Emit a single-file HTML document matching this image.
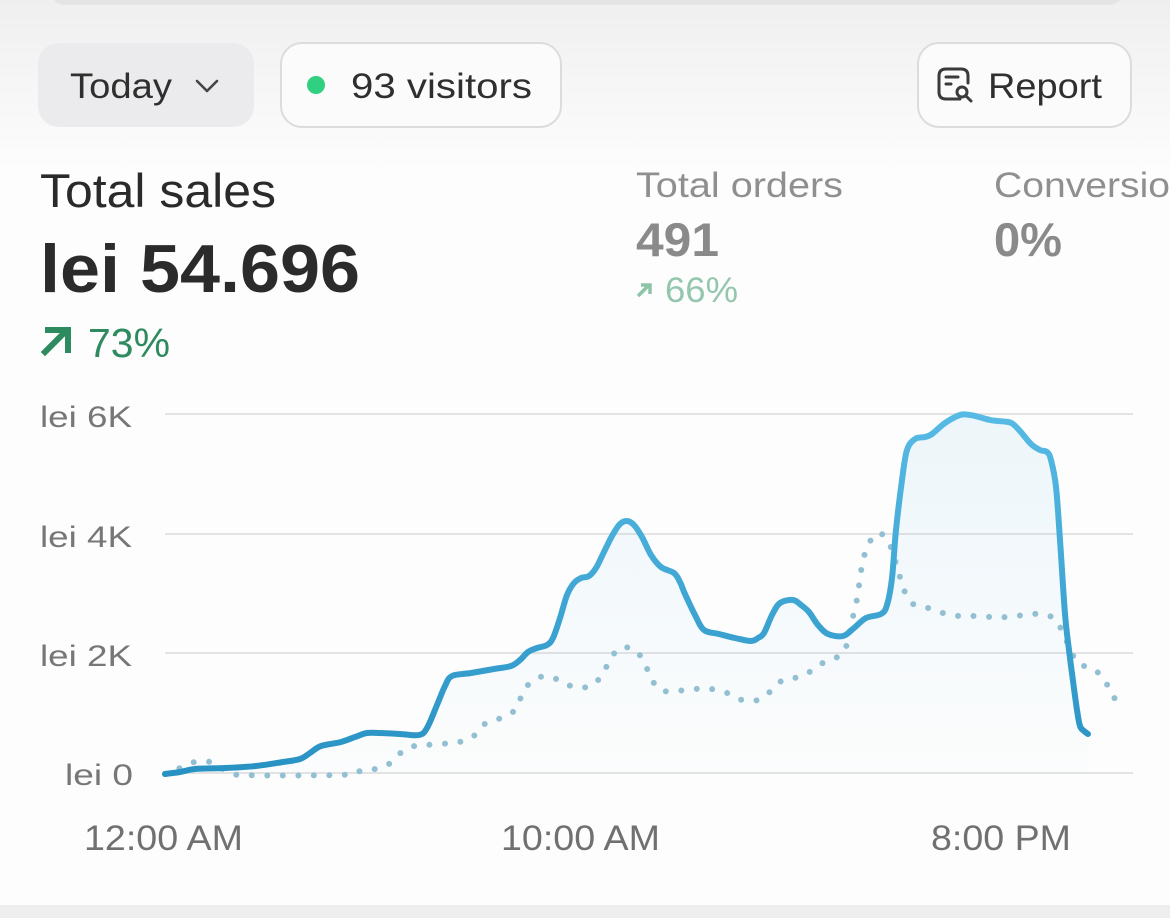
<!DOCTYPE html>
<html><head><meta charset="utf-8"><style>
html,body{margin:0;padding:0;width:1170px;height:918px;overflow:hidden;background:#fdfdfd;}
svg{display:block;}
text{font-family:"Liberation Sans",sans-serif;}
</style></head><body>
<svg id="s" width="1170" height="918" viewBox="0 0 1170 918" xmlns="http://www.w3.org/2000/svg">
<defs>
<linearGradient id="bg" x1="0" y1="0" x2="0" y2="1">
<stop offset="0" stop-color="#efefef"/><stop offset="1" stop-color="#fdfdfd"/>
</linearGradient>
<linearGradient id="ln" x1="0" y1="410" x2="0" y2="775" gradientUnits="userSpaceOnUse">
<stop offset="0" stop-color="#58bbe5"/><stop offset="1" stop-color="#2892c3"/>
</linearGradient>
<linearGradient id="fa" x1="0" y1="410" x2="0" y2="775" gradientUnits="userSpaceOnUse">
<stop offset="0" stop-color="#5ab4e2" stop-opacity="0.10"/><stop offset="1" stop-color="#5ab4e2" stop-opacity="0.01"/>
</linearGradient>
</defs>
<rect x="0" y="0" width="1170" height="918" fill="#fdfdfd"/>
<rect x="0" y="0" width="1170" height="170" fill="url(#bg)"/>
<rect x="48" y="-40" width="1078" height="45" rx="18" fill="#e4e4e4"/>
<rect x="0" y="905" width="1170" height="13" fill="#eeeeee"/>

<!-- buttons -->
<rect x="38" y="43" width="216" height="84" rx="21" fill="#ebebed"/>
<text x="70" y="98" font-size="35" fill="#2f2f2f" textLength="102" lengthAdjust="spacingAndGlyphs">Today</text>
<polyline points="197,81 207,91 217,81" fill="none" stroke="#444" stroke-width="2.6" stroke-linecap="round" stroke-linejoin="round"/>

<rect x="281" y="43" width="280" height="84" rx="21" fill="#fbfbfb" stroke="#dcdcdc" stroke-width="2"/>
<circle cx="316" cy="85" r="9" fill="#2fd07f"/>
<text x="351" y="98" font-size="35" fill="#2f2f2f" textLength="181" lengthAdjust="spacingAndGlyphs">93 visitors</text>

<rect x="918" y="43" width="213" height="84" rx="21" fill="#fbfbfb" stroke="#dcdcdc" stroke-width="2"/>
<path d="M960,99 H946 Q939,99 939,92 V76 Q939,69 946,69 H961 Q968,69 968,76 V83" fill="none" stroke="#3a3a3a" stroke-width="3" stroke-linecap="round"/>
<line x1="946" y1="77" x2="958" y2="77" stroke="#3a3a3a" stroke-width="3" stroke-linecap="round"/>
<line x1="946" y1="84" x2="951" y2="84" stroke="#3a3a3a" stroke-width="3" stroke-linecap="round"/>
<circle cx="962" cy="92" r="5" fill="none" stroke="#3a3a3a" stroke-width="3"/>
<line x1="966" y1="96" x2="971" y2="101" stroke="#3a3a3a" stroke-width="3" stroke-linecap="round"/>
<text x="988" y="98" font-size="35" fill="#2f2f2f" textLength="114" lengthAdjust="spacingAndGlyphs">Report</text>

<!-- metrics -->
<text x="40" y="207" font-size="47" fill="#2a2a2a" textLength="236" lengthAdjust="spacingAndGlyphs">Total sales</text>
<text x="40" y="292" font-size="68" font-weight="bold" fill="#2b2b2b" textLength="320" lengthAdjust="spacingAndGlyphs">lei 54.696</text>
<line x1="45" y1="352" x2="66" y2="331" stroke="#2e8a5f" stroke-width="6" stroke-linecap="square"/>
<polyline points="48,330 68,330 68,350" fill="none" stroke="#2e8a5f" stroke-width="6" stroke-linecap="square"/>
<text x="88" y="357" font-size="41" fill="#2e8a5f" textLength="82" lengthAdjust="spacingAndGlyphs">73%</text>

<text x="636" y="197" font-size="35" fill="#8f8f8f" textLength="207" lengthAdjust="spacingAndGlyphs">Total orders</text>
<text x="636" y="256" font-size="47" font-weight="bold" fill="#8a8a8a" textLength="83" lengthAdjust="spacingAndGlyphs">491</text>
<line x1="638" y1="296" x2="649" y2="285" stroke="#8dc4a8" stroke-width="3.5"/>
<polyline points="641,285 650,285 650,294" fill="none" stroke="#8dc4a8" stroke-width="3.5"/>
<text x="665" y="302" font-size="35" fill="#93c6ad" textLength="73" lengthAdjust="spacingAndGlyphs">66%</text>

<text x="994" y="197" font-size="35" fill="#8f8f8f" textLength="176" lengthAdjust="spacingAndGlyphs">Conversio</text>
<text x="994" y="256" font-size="47" font-weight="bold" fill="#8a8a8a" textLength="68" lengthAdjust="spacingAndGlyphs">0%</text>

<!-- grid -->
<g stroke="#e3e3e3" stroke-width="2">
<line x1="165" y1="414" x2="1133" y2="414"/>
<line x1="165" y1="534" x2="1133" y2="534"/>
<line x1="165" y1="653" x2="1133" y2="653"/>
<line x1="165" y1="773" x2="1133" y2="773"/>
</g>
<g font-size="30" fill="#777777">
<text x="40" y="427" textLength="92" lengthAdjust="spacingAndGlyphs">lei 6K</text>
<text x="40" y="547" textLength="92" lengthAdjust="spacingAndGlyphs">lei 4K</text>
<text x="40" y="666" textLength="92" lengthAdjust="spacingAndGlyphs">lei 2K</text>
<text x="65" y="785" textLength="68" lengthAdjust="spacingAndGlyphs">lei 0</text>
</g>
<g font-size="35" fill="#707070">
<text x="84" y="850" textLength="159" lengthAdjust="spacingAndGlyphs">12:00 AM</text>
<text x="501" y="850" textLength="159" lengthAdjust="spacingAndGlyphs">10:00 AM</text>
<text x="931" y="850" textLength="140" lengthAdjust="spacingAndGlyphs">8:00 PM</text>
</g>

<!-- area fill -->
<polygon id="area" fill="url(#fa)" points="165,774 180,772 195,769 225,768 256,766 283,762 300,759 310,753 321,746 341,742 355,737 367,733 380,733 400,734 419,735 427,728 437,705 445,686 452,676 471,673 494,669 511,666 520,660 528,652 537,648 547,645 553,638 560,618 567,595 574,583 581,578 589,576 596,568 603,554 612,536 620,524 627,521 634,525 642,537 651,555 661,567 674,573 680,582 685,594 695,615 704,630 719,634 735,638 751,641 758,638 764,633 772,615 780,603 793,600 801,605 809,612 818,625 828,634 843,636 854,628 866,618 881,614 887,605 892,578 896,530 902,480 907,450 915,439 925,437 932,434 945,423 960,415 970,415 979,417 990,420 998,421 1008,422 1013,424 1020,431 1031,444 1040,450 1047,452 1051,460 1056,487 1060,540 1065,614 1069,650 1073,681 1077,710 1080,726 1084,731 1088,734 1088,773 165,773"/>

<!-- dotted comparison -->
<polyline id="dots" fill="none" stroke="#93bfd2" stroke-width="6" stroke-linecap="round" stroke-linejoin="round" stroke-dasharray="0 15.5" points="165,774 180,768 195,762 210,762 225,770 241,775 339,775 354,772 369,770 386,766 398,755 411,747 427,745 459,742 475,735 486,723 501,718 515,710 522,695 530,683 545,676 561,681 574,687 591,686 602,675 610,660 620,648 635,650 645,664 651,678 663,691 695,689 711,689 727,693 742,700 758,700 771,691 783,680 799,677 813,670 826,661 841,655 848,641 851,624 855,609 858,593 860,578 863,561 868,545 878,533 889,543 899,574 904,590 913,604 928,608 943,613 959,616 975,616 992,617 1008,617 1024,615 1040,614 1055,619 1063,633 1077,662 1092,668 1104,679 1111,693 1121,707"/>

<!-- main line -->
<polyline id="main" fill="none" stroke="url(#ln)" stroke-width="6" stroke-linecap="round" stroke-linejoin="round" points="165,774 180,772 195,769 225,768 256,766 283,762 300,759 310,753 321,746 341,742 355,737 367,733 380,733 400,734 419,735 427,728 437,705 445,686 452,676 471,673 494,669 511,666 520,660 528,652 537,648 547,645 553,638 560,618 567,595 574,583 581,578 589,576 596,568 603,554 612,536 620,524 627,521 634,525 642,537 651,555 661,567 674,573 680,582 685,594 695,615 704,630 719,634 735,638 751,641 758,638 764,633 772,615 780,603 793,600 801,605 809,612 818,625 828,634 843,636 854,628 866,618 881,614 887,605 892,578 896,530 902,480 907,450 915,439 925,437 932,434 945,423 960,415 970,415 979,417 990,420 998,421 1008,422 1013,424 1020,431 1031,444 1040,450 1047,452 1051,460 1056,487 1060,540 1065,614 1069,650 1073,681 1077,710 1080,726 1084,731 1088,734"/>
</svg>
<script>
(function(){
try{
var NS="http://www.w3.org/2000/svg";
function pts(el){return el.getAttribute("points").trim().split(/\s+/).map(function(p){var a=p.split(",");return [parseFloat(a[0]),parseFloat(a[1])];});}
function cr(p){
  var d="M"+p[0][0]+","+p[0][1];
  for(var i=0;i<p.length-1;i++){
    var p0=p[i-1]||p[i],p1=p[i],p2=p[i+1],p3=p[i+2]||p2;
    var t=0.5/3;
    var c1x=p1[0]+(p2[0]-p0[0])*t,c1y=p1[1]+(p2[1]-p0[1])*t;
    var c2x=p2[0]-(p3[0]-p1[0])*t,c2y=p2[1]-(p3[1]-p1[1])*t;
    d+=" C"+c1x.toFixed(2)+","+c1y.toFixed(2)+" "+c2x.toFixed(2)+","+c2y.toFixed(2)+" "+p2[0]+","+p2[1];
  }
  return d;
}
function rep(id,close){
  var el=document.getElementById(id);var p=pts(el);
  var extra="";
  if(close){p=p.slice(0,p.length-2);extra=" L1088,773 L165,773 Z";}
  var path=document.createElementNS(NS,"path");
  for(var i=0;i<el.attributes.length;i++){var a=el.attributes[i];if(a.name!="points")path.setAttribute(a.name,a.value);}
  path.setAttribute("d",cr(p)+extra);
  el.parentNode.replaceChild(path,el);
}
rep("area",true);rep("dots",false);rep("main",false);
}catch(e){}
})();
</script>
</body></html>
